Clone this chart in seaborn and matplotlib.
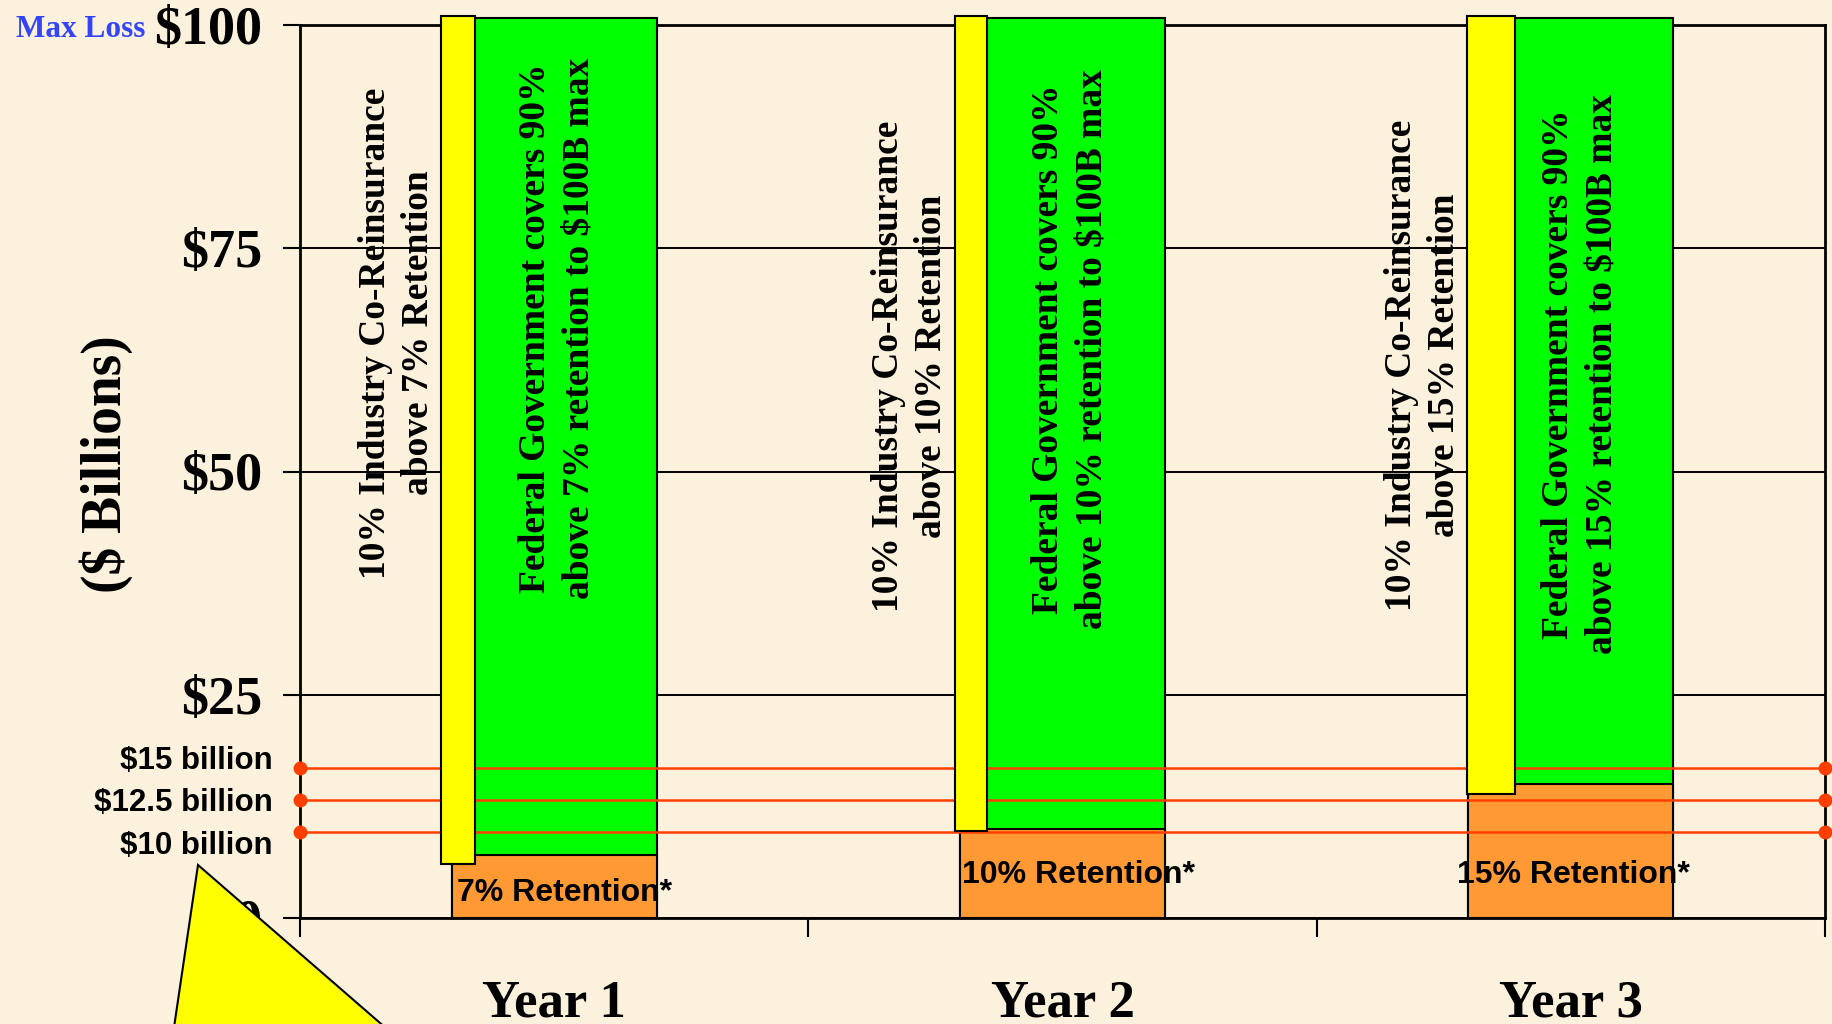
import numpy as np
import pandas as pd
import matplotlib
matplotlib.use("Agg")
import matplotlib.pyplot as plt
from matplotlib.patches import Polygon
import matplotlib.transforms as mtransforms
import seaborn as sns

# data
years = ["Year 1", "Year 2", "Year 3"]
retention = [7, 10, 15]
program_top = [100.8, 100.8, 100.8]
industry_bottom = [6.0, 9.7, 13.9]
industry_top = [101.0, 101.0, 101.0]
retention_labels = ["7% Retention*", "10% Retention*", "15% Retention*"]
industry_labels = ["10% Industry Co-Reinsurance\nabove 7% Retention",
                   "10% Industry Co-Reinsurance\nabove 10% Retention",
                   "10% Industry Co-Reinsurance\nabove 15% Retention"]
federal_labels = ["Federal Government covers 90%\nabove 7% retention to $100B max",
                  "Federal Government covers 90%\nabove 10% retention to $100B max",
                  "Federal Government covers 90%\nabove 15% retention to $100B max"]
trigger_levels = [16.8, 13.2, 9.6]
trigger_labels = ["$15 billion", "$12.5 billion", "$10 billion"]
y_ticks = [0, 25, 50, 75, 100]
y_tick_labels = ["$0", "$25", "$50", "$75", "$100"]

df = pd.DataFrame({"year": years, "retention": retention, "program": program_top})

bg = "#FCF1DC"
serif = "Liberation Serif"
sans = "Liberation Sans"

sns.set_style("white")
plt.rcParams["font.family"] = [serif, "DejaVu Sans"]
plt.rcParams["text.color"] = "black"
plt.rcParams["xtick.color"] = "black"
plt.rcParams["ytick.color"] = "black"
plt.rcParams["axes.labelcolor"] = "black"

fig = plt.figure(figsize=(18.33, 10.24), dpi=100, facecolor=bg)
ax = fig.add_axes([300 / 1833, 1 - 918 / 1024, 1525 / 1833, 893 / 1024])
ax.set_facecolor(bg)

bar_w = 0.403
sns.barplot(data=df, x="year", y="program", color="#00FF00", saturation=1,
            width=bar_w, edgecolor="black", linewidth=1.5, errorbar=None,
            zorder=3, clip_on=False, ax=ax)
sns.barplot(data=df, x="year", y="retention", color="#FF9933", saturation=1,
            width=bar_w, edgecolor="black", linewidth=1.5, errorbar=None,
            zorder=3.1, clip_on=False, ax=ax)

# trigger lines with end dots
for lvl in trigger_levels:
    ax.plot([-0.5, 2.5], [lvl, lvl], color="#FF3F00", lw=1.8, marker="o",
            ms=9, clip_on=False, zorder=4)

# yellow co-reinsurance strips (floating bars)
pos = np.arange(len(years))
y_left = np.array([-0.222, -0.211, -0.205])
y_width = np.array([0.067, 0.063, 0.096])
ax.bar(pos + y_left, np.array(industry_top) - np.array(industry_bottom),
       bottom=industry_bottom, width=y_width, align="edge", color="#FFFF00",
       edgecolor="black", linewidth=1.5, zorder=5, clip_on=False)

ax.set_ylim(0, 100)
ax.set_xlim(-0.5, 2.5)
ax.set_xlabel("")
ax.set_ylabel("")

ax.set_yticks(y_ticks)
ax.set_yticklabels(y_tick_labels, fontfamily=serif, fontweight="bold", fontsize=39,
                   color="black")
ax.set_xticks([-0.5, 0.5, 1.5, 2.5])
ax.set_xticklabels([])
ax.set_xticks(pos, minor=True)
ax.set_xticklabels(years, minor=True, fontfamily=serif, fontweight="bold", fontsize=38,
                   color="black")
ax.tick_params(axis="y", direction="out", length=12, width=1.5, pad=15, left=True,
               color="black")
ax.tick_params(axis="x", which="major", direction="out", length=13.5, width=1.5,
               bottom=True, color="black")
ax.tick_params(axis="x", which="minor", length=0, pad=44)

ax.yaxis.grid(True, color="black", lw=1.4)
ax.xaxis.grid(False)
ax.set_axisbelow(True)
for s in ax.spines.values():
    s.set_visible(True)
    s.set_color("black")
    s.set_linewidth(2)
    s.set_zorder(2.5)

# labels on the bars
ret_off = [-0.191, -0.198, -0.224]
ret_y = [2.8, 4.8, 4.8]
ind_off = [-0.309, -0.300, -0.291]
ind_y = [65.5, 61.8, 61.9]
fed_off = [0.006, 0.015, 0.018]
fed_y = [66.0, 63.7, 60.9]
for i in range(len(years)):
    ax.text(i + ret_off[i], ret_y[i], retention_labels[i], ha="left", va="center",
            fontfamily=sans, fontweight="bold", fontsize=23, color="black", zorder=6)
    ax.text(i + ind_off[i], ind_y[i], industry_labels[i], ha="center", va="center",
            rotation=90, multialignment="center", linespacing=1.3, color="black",
            fontfamily=serif, fontweight="bold", fontsize=27, zorder=6)
    ax.text(i + fed_off[i], fed_y[i], federal_labels[i], ha="center", va="center",
            rotation=90, multialignment="center", linespacing=1.3, color="black",
            fontfamily=serif, fontweight="bold", fontsize=27, zorder=6)

# trigger labels left of the axis
trans = mtransforms.blended_transform_factory(ax.transAxes, ax.transData)
lab_y = [17.6, 12.9, 8.1]
for ly, lab in zip(lab_y, trigger_labels):
    ax.text(-0.0177, ly, lab, transform=trans, ha="right", va="center", color="black",
            fontfamily=sans, fontweight="bold", fontsize=22.5, clip_on=False)

ax.text(-0.127, 0.508, "($ Billions)", transform=ax.transAxes, rotation=90,
        ha="center", va="center", fontfamily=serif, fontweight="bold", fontsize=40,
        color="black")

fig.text(16 / 1833, 1 - 37 / 1024, "Max Loss", color="#3344FF", ha="left",
         va="baseline", fontfamily=serif, fontweight="bold", fontsize=22.5)

# yellow callout pointer in the lower left corner
tri = Polygon([(198 / 1833, 1 - 865 / 1024), (173 / 1833, -0.01), (393 / 1833, -0.01)],
              closed=True, transform=fig.transFigure, facecolor="#FFFF00",
              edgecolor="black", linewidth=1.5, zorder=10)
fig.add_artist(tri)

fig.savefig("out.png", dpi=100, facecolor=bg)
